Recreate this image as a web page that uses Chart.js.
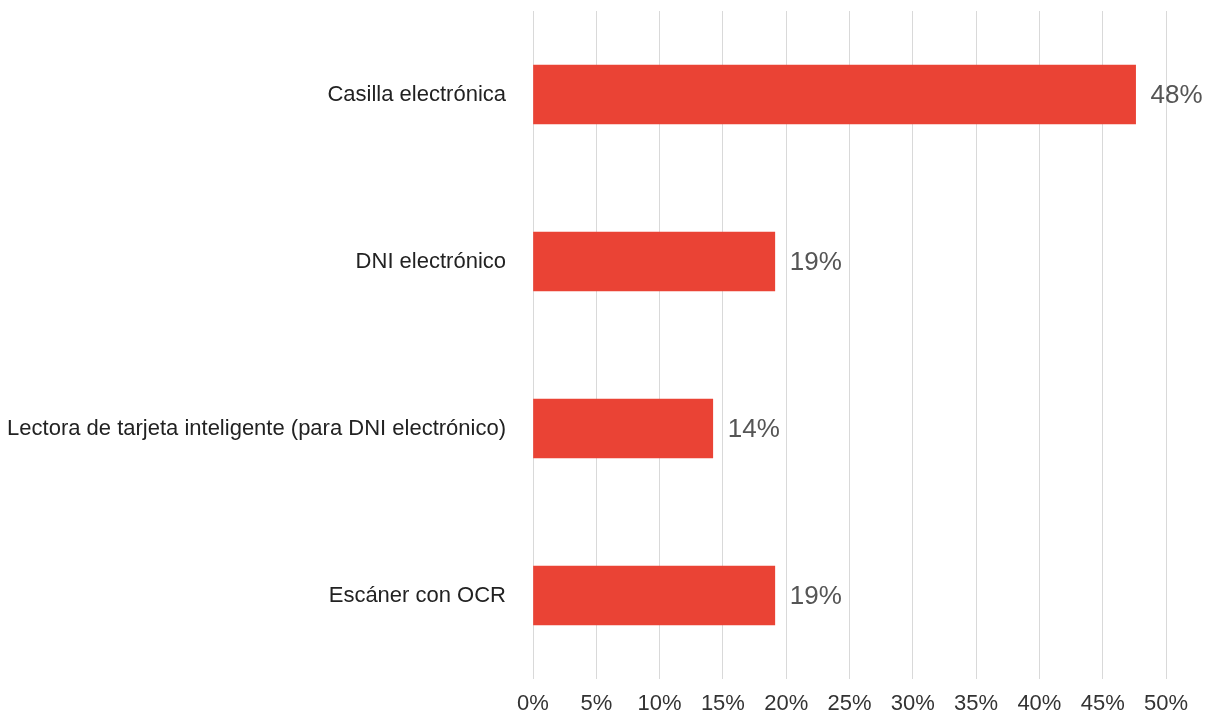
<!DOCTYPE html>
<html>
<head>
<meta charset="utf-8">
<script src="https://cdn.jsdelivr.net/npm/chart.js@4/dist/chart.umd.min.js"></script>
<style>
  html, body { margin: 0; padding: 0; background: #fff; }
  #wrap { width: 1206px; height: 716px; }
</style>
</head>
<body>
<div id="wrap"><canvas id="myChart" width="1206" height="716"></canvas></div>
<script>
var categories = ["Casilla electrónica", "DNI electrónico", "Lectora de tarjeta inteligente (para DNI electrónico)", "Escáner con OCR"];
var shares = [47.6, 19.1, 14.2, 19.1];
var xTicks = [0, 5, 10, 15, 20, 25, 30, 35, 40, 45, 50];

// draws the "48%" style labels next to each bar
var barLabels = {
  id: "barLabels",
  afterDatasetsDraw: function(chart) {
    var ctx = chart.ctx;
    var meta = chart.getDatasetMeta(0);
    ctx.save();
    ctx.font = "26px 'Liberation Sans', Arial, sans-serif";
    ctx.fillStyle = "#555555";
    ctx.textAlign = "left";
    ctx.textBaseline = "middle";
    meta.data.forEach(function(bar, i) {
      ctx.fillText(Math.round(shares[i]) + "%", bar.x + 15, bar.y + 1);
    });
    ctx.restore();
  }
};

var grapharea = document.getElementById("myChart").getContext("2d");
var mychart = new Chart(grapharea, {
  type: "bar",
  data: {
    labels: categories,
    datasets: [{
      data: shares,
      backgroundColor: "#ea4335",
      borderWidth: 0,
      barThickness: 59
    }]
  },
  options: {
    indexAxis: "y",
    responsive: false,
    animation: false,
    layout: { padding: { top: 11, right: 40, left: 0, bottom: 0 } },
    plugins: {
      legend: { display: false },
      tooltip: { enabled: false }
    },
    scales: {
      x: {
        min: 0,
        max: 50,
        afterBuildTicks: function(scale) {
          scale.ticks = xTicks.map(function(v) { return { value: v }; });
        },
        afterFit: function(scale) {
          scale.height = 37;
          scale.paddingLeft = 0;
          scale.paddingRight = 0;
        },
        grid: { color: "#d9d9d9", lineWidth: 1, drawTicks: false },
        border: { display: false },
        ticks: {
          padding: 13,
          color: "#333333",
          font: { family: "'Liberation Sans', Arial, sans-serif", size: 22, lineHeight: 1.1 },
          callback: function(v) { return v + "%"; }
        }
      },
      y: {
        afterFit: function(scale) {
          scale.width = 533;
          scale.paddingTop = 0;
          scale.paddingBottom = 0;
        },
        grid: { display: false },
        border: { display: false },
        ticks: {
          padding: 19,
          color: "#222222",
          font: { family: "'Liberation Sans', Arial, sans-serif", size: 22 }
        }
      }
    }
  },
  plugins: [barLabels]
});
</script>
</body>
</html>
